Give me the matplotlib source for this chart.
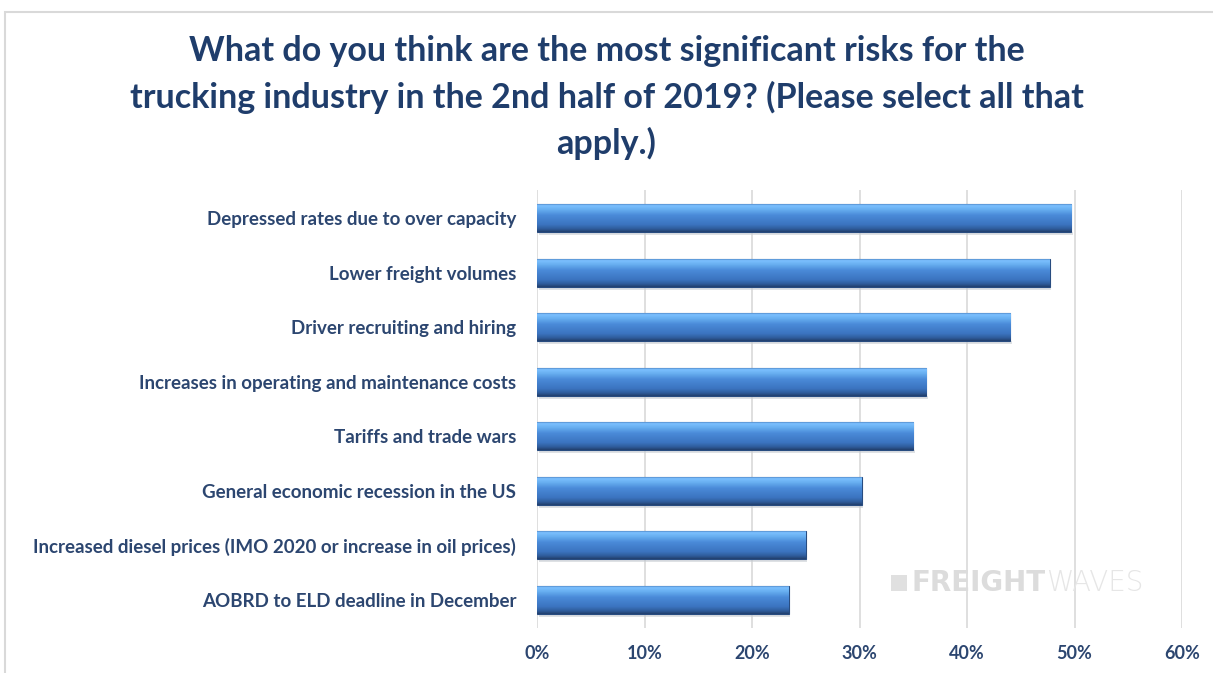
import numpy as np
import matplotlib.pyplot as plt
from matplotlib.colors import LinearSegmentedColormap
from matplotlib.patches import Rectangle

risks = [
    "Depressed rates due to over capacity",
    "Lower freight volumes",
    "Driver recruiting and hiring",
    "Increases in operating and maintenance costs",
    "Tariffs and trade wars",
    "General economic recession in the US",
    "Increased diesel prices (IMO 2020 or increase in oil prices)",
    "AOBRD to ELD deadline in December",
]
shares = [49.7, 47.7, 44.0, 36.2, 35.0, 30.2, 25.0, 23.4]
ticks = [0, 10, 20, 30, 40, 50, 60]
tick_labels = ["0%", "10%", "20%", "30%", "40%", "50%", "60%"]

title = ("What do you think are the most significant risks for the\n"
         "trucking industry in the 2nd half of 2019? (Please select all that\n"
         "apply.)")

navy = "#1f3d6b"
slate = "#2c4670"
plt.rcParams["font.family"] = ["Lato", "DejaVu Sans"]

fig = plt.figure(figsize=(12.13, 6.73), dpi=100)
fig.patch.set_facecolor("white")

# thin frame around the chart area
fig.patches.append(Rectangle((5 / 1213, -0.01), 1.02, 1 - 12 / 673 + 0.01,
                             transform=fig.transFigure, fill=False,
                             edgecolor="#d9d9d9", lw=1.5))

fig.text(0.5, 1 - 35 / 673, title, ha="center", va="top", color=navy,
         fontsize=24.5, fontweight="bold", linespacing=1.5)

ax = fig.add_axes([537 / 1213, 1 - 628 / 673, 645 / 1213, 438 / 673])
ax.set_facecolor("none")

y = np.arange(len(risks))
bars = ax.barh(y, shares, height=0.52, color="#4a8ad8",
               edgecolor="#284c80", lw=0.8, zorder=3)

# glossy vertical gradient inside each bar
cmap = LinearSegmentedColormap.from_list("gloss", [
    (0.0, "#3f70b0"), (0.08, "#7cc0ff"), (0.22, "#67aef0"),
    (0.42, "#4a8ad8"), (0.75, "#3b74c0"), (0.9, "#2f5c9a"),
    (1.0, "#22406e")])
grad = np.linspace(0, 1, 64).reshape(-1, 1)
for bar in bars:
    x0, y0 = bar.get_x(), bar.get_y()
    w, h = bar.get_width(), bar.get_height()
    im = ax.imshow(grad, extent=(x0, x0 + w, y0 + h, y0), aspect="auto",
                   cmap=cmap, origin="upper", zorder=3.5)
    im.set_clip_path(bar)
    # soft shadow under the bar
    ax.add_patch(Rectangle((x0 + 0.15, y0 + h), w, 0.05, color="#c9cdd3",
                           alpha=0.6, zorder=2, lw=0))

ax.set_xlim(0, 60)
ax.set_ylim(len(risks) - 0.48, -0.52)
ax.set_xticks(ticks)
ax.set_xticklabels(tick_labels)
ax.set_yticks(y)
ax.set_yticklabels(risks)
ax.xaxis.grid(True, color="#d9d9d9", lw=1.2, zorder=0)
ax.set_axisbelow(True)
for s in ax.spines.values():
    s.set_visible(False)
ax.tick_params(axis="both", length=0, colors=slate)
ax.tick_params(axis="x", pad=12, labelsize=13)
ax.tick_params(axis="y", pad=15, labelsize=13.5)
for lab in ax.get_xticklabels() + ax.get_yticklabels():
    lab.set_fontweight("bold")

# faint logo text
mark = fig.text(912 / 1213, 1 - 583 / 673, "FREIGHT", color="#dcdcdc",
                fontsize=20, fontweight="bold", family="DejaVu Sans",
                va="center", ha="left")
ax.annotate("WAVES", xy=(1, 0.5), xycoords=mark, va="center", ha="left",
            color="#e6e6e6", fontsize=20, family="DejaVu Sans",
            fontweight="light", annotation_clip=False)
fig.patches.append(Rectangle((891 / 1213, 1 - 591 / 673), 16 / 1213, 16 / 673,
                             transform=fig.transFigure, color="#e0e0e0", lw=0))

fig.savefig("out.png", dpi=100, facecolor="white")
